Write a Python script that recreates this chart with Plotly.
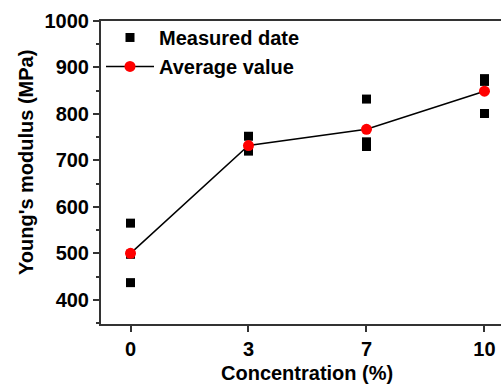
import plotly.graph_objects as go

categories = ["0", "3", "7", "10"]
measured_x = [0, 0, 0, 1, 1, 1, 2, 2, 2, 3, 3, 3]
measured_y = [565, 437, 498, 752, 720, 725, 832, 740, 730, 876, 801, 870]
avg_x = [0, 1, 2, 3]
avg_y = [500, 732, 767, 849]
y_ticks = [400, 500, 600, 700, 800, 900, 1000]

FONT = "Liberation Sans, Arial, sans-serif"
AX = "#333333"

fig = go.Figure()
fig.add_trace(go.Scatter(
    x=measured_x, y=measured_y, mode="markers", name="<b>Measured date</b>",
    marker=dict(symbol="square", size=9, color="black"),
))
fig.add_trace(go.Scatter(
    x=avg_x, y=avg_y, mode="lines+markers", name="<b>Average value</b>",
    line=dict(color="black", width=1.5),
    marker=dict(symbol="circle", size=11, color="#ff0000"),
))

fig.update_layout(
    width=501, height=387,
    margin=dict(l=101, r=0, t=21, b=63),
    plot_bgcolor="white", paper_bgcolor="white",
    font=dict(family=FONT, color="black"),
    showlegend=True,
    legend=dict(x=0.0, y=1.01, xanchor="left", yanchor="top",
                bgcolor="rgba(0,0,0,0)", font=dict(size=20, family=FONT),
                itemwidth=48, tracegroupgap=0),
    xaxis=dict(
        range=[-0.25, 3.14], tickmode="array", tickvals=avg_x, ticktext=[f"<b>{c}</b>" for c in categories],
        showline=True, linecolor=AX, linewidth=2, mirror=True,
        ticks="outside", ticklen=6, tickwidth=1.5, tickcolor=AX,
        tickfont=dict(size=20, family=FONT), showgrid=False, zeroline=False,
    ),
    yaxis=dict(
        range=[348, 1000], tickmode="array", tickvals=y_ticks,
        ticktext=[f"<b>{v}</b>" for v in y_ticks],
        showline=True, linecolor=AX, linewidth=2, mirror=False,
        ticks="outside", ticklen=6, tickwidth=1.5, tickcolor=AX,
        minor=dict(dtick=50, tick0=350, ticks="outside", ticklen=3, tickwidth=1.5, tickcolor=AX),
        tickfont=dict(size=20, family=FONT), showgrid=False, zeroline=False,
    ),
    annotations=[
        dict(text="<b>Concentration (%)</b>", xref="paper", yref="paper", x=0.515, y=-0.162,
             xanchor="center", yanchor="middle", showarrow=False, font=dict(size=20, family=FONT)),
        dict(text="<b>Young's modulus (MPa)</b>", xref="paper", yref="paper", x=-0.187, y=0.535,
             xanchor="center", yanchor="middle", textangle=-90, showarrow=False, font=dict(size=20, family=FONT)),
    ],
)

fig.write_html(
    "out.html",
    config={"displayModeBar": False},
    post_script="document.body.style.margin='0';document.body.style.overflow='hidden';",
)
